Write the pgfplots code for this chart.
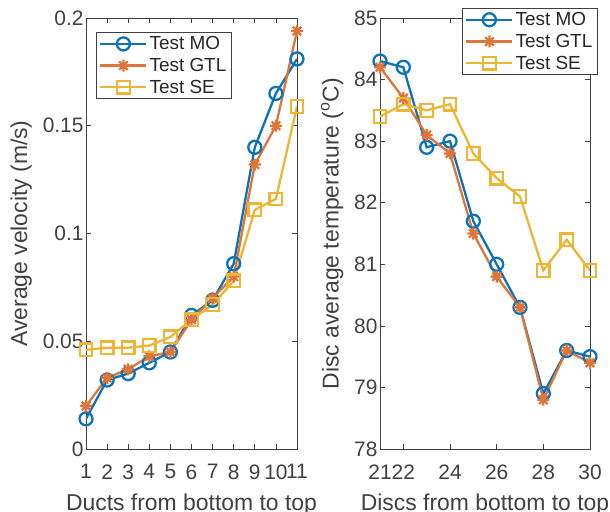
\documentclass[border=0pt]{standalone}
\usepackage{fontspec}
\setmainfont{Liberation Sans}
\usepackage{pgfplots}
\pgfplotsset{compat=1.18}
\definecolor{mblue}{rgb}{0.05,0.45,0.72}
\definecolor{morange}{rgb}{0.87,0.46,0.23}
\definecolor{myellow}{rgb}{0.93,0.71,0.2}
\definecolor{txt}{rgb}{0.25,0.25,0.25}
\pgfdeclareplotmark{mstar}{%
  \pgfpathmoveto{\pgfqpoint{-\pgfplotmarksize}{0pt}}\pgfpathlineto{\pgfqpoint{\pgfplotmarksize}{0pt}}%
  \pgfpathmoveto{\pgfqpoint{0pt}{-\pgfplotmarksize}}\pgfpathlineto{\pgfqpoint{0pt}{\pgfplotmarksize}}%
  \pgfpathmoveto{\pgfqpoint{-0.707\pgfplotmarksize}{-0.707\pgfplotmarksize}}\pgfpathlineto{\pgfqpoint{0.707\pgfplotmarksize}{0.707\pgfplotmarksize}}%
  \pgfpathmoveto{\pgfqpoint{-0.707\pgfplotmarksize}{0.707\pgfplotmarksize}}\pgfpathlineto{\pgfqpoint{0.707\pgfplotmarksize}{-0.707\pgfplotmarksize}}%
  \pgfusepathqstroke}
\pgfplotsset{
  every axis/.style={
    scale only axis, height=431bp,
    font=\fontsize{21}{25}\selectfont,
    /pgf/number format/assume math mode=true,
    axis line style={txt, line width=0.7bp},
    tick style={txt, line width=0.7bp},
    major tick length=5bp,
    tick label style={text=txt},
    label style={text=txt, font=\fontsize{23}{27}\selectfont},
    xticklabel style={yshift=-12bp},
    yticklabel style={xshift=1bp},
    xlabel style={yshift=-7.5bp},
    ylabel style={yshift=4bp},
    legend cell align=left,
    legend style={font=\fontsize{19}{22}\selectfont, draw=txt, line width=0.7bp, inner xsep=3bp, inner ysep=2bp, row sep=3bp, text=black!85},
    legend image code/.code={\draw[mark repeat=2,mark phase=2] plot coordinates {(0bp,0bp) (23bp,0bp) (46bp,0bp)};},
  },
  smo/.style={color=mblue, line width=2.3bp, mark=o, mark size=6.5bp, mark options={line width=2.3bp}},
  sgtl/.style={color=morange, line width=2.3bp, mark=mstar, mark size=6bp, mark options={line width=2.3bp}},
  sse/.style={color=myellow, line width=2.3bp, mark=square, mark size=6.3bp, mark options={line width=2.3bp}},
}
\begin{document}
\begin{tikzpicture}
\clip (0,0) rectangle (610bp,512bp);
\begin{axis}[at={(86bp,63bp)}, anchor=south west, width=211bp,
  xmin=1, xmax=11, ymin=0, ymax=0.2,
  xtick={1,2,3,4,5,6,7,8,9,10,11},
  ytick={0,0.05,0.1,0.15,0.2}, yticklabels={0,0.05,0.1,0.15,0.2},
  xlabel={Ducts from bottom to top}, ylabel={Average velocity (m/s)},
  legend style={at={(0.047,0.967)}, anchor=north west},
]
\addplot[smo] coordinates {(1,0.014)(2,0.032)(3,0.035)(4,0.040)(5,0.045)(6,0.062)(7,0.069)(8,0.086)(9,0.140)(10,0.165)(11,0.181)};
\addplot[sgtl] coordinates {(1,0.020)(2,0.033)(3,0.037)(4,0.043)(5,0.045)(6,0.060)(7,0.070)(8,0.080)(9,0.132)(10,0.150)(11,0.194)};
\addplot[sse] coordinates {(1,0.046)(2,0.047)(3,0.047)(4,0.048)(5,0.052)(6,0.060)(7,0.067)(8,0.078)(9,0.111)(10,0.116)(11,0.159)};
\legend{Test MO, Test GTL, Test SE}
\end{axis}
\begin{axis}[at={(380bp,63bp)}, anchor=south west, width=210bp,
  xmin=21, xmax=30, ymin=78, ymax=85,
  xtick={21,22,24,26,28,30},
  ytick={78,79,80,81,82,83,84,85},
  xlabel={Discs from bottom to top}, ylabel={Disc average temperature ($^{\rm o}$C)},
  legend style={at={(0.39,1.023)}, anchor=north west},
]
\addplot[smo] coordinates {(21,84.3)(22,84.2)(23,82.9)(24,83.0)(25,81.7)(26,81.0)(27,80.3)(28,78.9)(29,79.6)(30,79.5)};
\addplot[sgtl] coordinates {(21,84.2)(22,83.7)(23,83.1)(24,82.8)(25,81.5)(26,80.8)(27,80.3)(28,78.8)(29,79.6)(30,79.4)};
\addplot[sse] coordinates {(21,83.4)(22,83.6)(23,83.5)(24,83.6)(25,82.8)(26,82.4)(27,82.1)(28,80.9)(29,81.4)(30,80.9)};
\legend{Test MO, Test GTL, Test SE}
\end{axis}
\end{tikzpicture}
\end{document}
